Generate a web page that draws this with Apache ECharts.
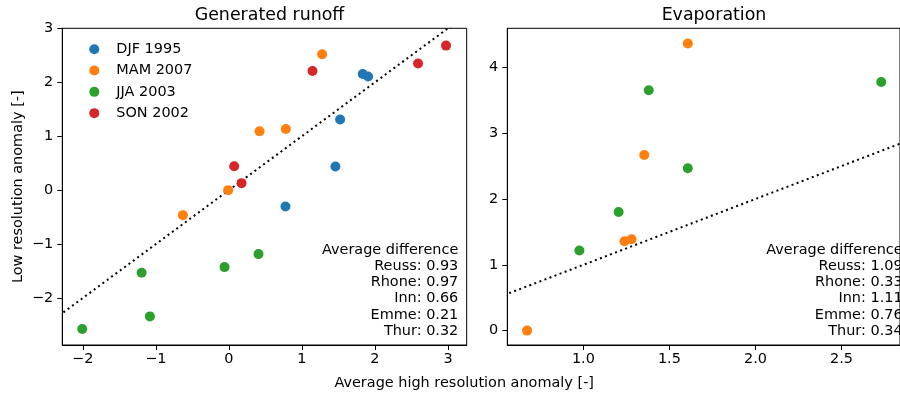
<!DOCTYPE html>
<html>
<head>
<meta charset="utf-8">
<script src="https://cdn.jsdelivr.net/npm/echarts@6/dist/echarts.min.js"></script>
<style>html,body{margin:0;padding:0;background:#fff}#c{width:900px;height:395px}</style>
</head>
<body>
<div id="c"></div>
<script>
// ---- data ----
const seriesNames = ['DJF 1995', 'MAM 2007', 'JJA 2003', 'SON 2002'];
const colors = ['#1f77b4', '#ff7f0e', '#2ca02c', '#d62728'];
const panelTitles = ['Generated runoff', 'Evaporation'];

// Generated runoff [high res, low res]
const runoffDJF = [[1.833, 2.154], [1.906, 2.105], [1.523, 1.309], [1.459, 0.438], [0.775, -0.302]];
const runoffMAM = [[1.277, 2.519], [0.420, 1.093], [0.780, 1.135], [-0.010, 0.000], [-0.629, -0.463]];
const runoffJJA = [[0.406, -1.185], [-0.059, -1.426], [-1.194, -1.531], [-1.081, -2.340], [-2.007, -2.574]];
const runoffSON = [[2.973, 2.679], [2.590, 2.346], [1.145, 2.210], [0.073, 0.444], [0.174, 0.130]];

// Evaporation
const evapMAM = [[1.607, 4.362], [1.354, 2.669], [1.239, 1.357], [1.280, 1.388], [0.673, 0.000]];
const evapJJA = [[2.731, 3.778], [1.380, 3.652], [1.607, 2.467], [1.205, 1.803], [0.977, 1.216]];

// 1:1 reference line
const oneToOne = [[-5, -5], [6, 6]];

// annotation
const rivers = ['Reuss', 'Rhone', 'Inn', 'Emme', 'Thur'];
const runoffDiff = ['0.93', '0.97', '0.66', '0.21', '0.32'];
const evapDiff = ['1.09', '0.33', '1.11', '0.76', '0.34'];

// ticks
const leftXTicks = [-2, -1, 0, 1, 2, 3];
const leftYTicks = [-2, -1, 0, 1, 2, 3];
const rightXTicks = [1.0, 1.5, 2.0, 2.5];
const rightYTicks = [0, 1, 2, 3, 4];

// axis ranges
const leftXRange = [-2.28, 3.256];
const leftYRange = [-2.87, 3.0];
const rightXRange = [0.558, 2.84];
const rightYRange = [-0.2185, 4.593];

// ---- chart ----
const FONT = 'DejaVu Sans';
const FS = 14.45;
const TFS = 17.4;
const fmtInt = v => String(Math.round(v)).replace('-', '\u2212');
const fmt1 = v => v.toFixed(1);

function axis(type, gridIndex, range, ticks, fmt) {
  return {
    type: 'value', gridIndex, min: range[0], max: range[1],
    axisLine: { show: true, onZero: false, lineStyle: { color: '#000', width: 1 } },
    axisTick: { show: true, inside: false, length: 5, customValues: ticks, lineStyle: { color: '#000', width: 1 } },
    axisLabel: { show: true, customValues: ticks, formatter: fmt, margin: type === 'x' ? 7.5 : 9,
      color: '#000', fontFamily: FONT, fontSize: FS },
    splitLine: { show: false }
  };
}

function annot(x, vals) {
  const lines = ['Average difference'].concat(rivers.map((r, i) => r + ': ' + vals[i]));
  return {
    type: 'text', x: x, y: 242.3, z: 100,
    style: { text: lines.join('\n'), align: 'right', verticalAlign: 'top',
      font: FS + 'px "DejaVu Sans"', lineHeight: 16.1, fill: '#000' }
  };
}

function scatter(name, idx, colorIdx, data) {
  return { type: 'scatter', name: name, xAxisIndex: idx, yAxisIndex: idx, data: data,
    symbolSize: 10, z: 3, silent: true, itemStyle: { color: colors[colorIdx], opacity: 1 } };
}
function refLine(idx) {
  return { type: 'line', xAxisIndex: idx, yAxisIndex: idx, data: oneToOne, symbol: 'none', silent: true, z: 2, clip: true,
    lineStyle: { color: '#000', width: 2, type: [2, 3.4], cap: 'butt' } };
}

const chart = echarts.init(document.getElementById('c'), null, { renderer: 'canvas' });
chart.setOption({
  animation: false,
  textStyle: { fontFamily: FONT },
  color: colors,
  title: [
    { text: panelTitles[0], left: 264.5, top: 2, textAlign: 'center',
      textStyle: { fontFamily: FONT, fontSize: TFS, fontWeight: 'normal', color: '#000' } },
    { text: panelTitles[1], left: 709, top: 2, textAlign: 'center',
      textStyle: { fontFamily: FONT, fontSize: TFS, fontWeight: 'normal', color: '#000' } }
  ],
  legend: {
    data: seriesNames, orient: 'vertical', left: 84.3, top: 37, icon: 'circle',
    itemWidth: 10, itemHeight: 10, itemGap: 6.8, selectedMode: false,
    textStyle: { fontFamily: FONT, fontSize: FS, color: '#000', lineHeight: 14.5, padding: [0, 0, 0, 12] }
  },
  grid: [
    { left: 62.3, top: 28.3, width: 404.4, height: 316.7, show: true, borderColor: '#000', borderWidth: 1, containLabel: false },
    { left: 507.3, top: 28.3, width: 404.4, height: 316.7, show: true, borderColor: '#000', borderWidth: 1, containLabel: false }
  ],
  xAxis: [
    axis('x', 0, leftXRange, leftXTicks, fmtInt),
    axis('x', 1, rightXRange, rightXTicks, fmt1)
  ],
  yAxis: [
    axis('y', 0, leftYRange, leftYTicks, fmtInt),
    axis('y', 1, rightYRange, rightYTicks, fmtInt)
  ],
  series: [
    refLine(0),
    scatter(seriesNames[0], 0, 0, runoffDJF),
    scatter(seriesNames[1], 0, 1, runoffMAM),
    scatter(seriesNames[2], 0, 2, runoffJJA),
    scatter(seriesNames[3], 0, 3, runoffSON),
    refLine(1),
    scatter(seriesNames[1], 1, 1, evapMAM),
    scatter(seriesNames[2], 1, 2, evapJJA)
  ],
  graphic: [
    annot(458.3, runoffDiff),
    annot(902.6, evapDiff),
    { type: 'text', x: 464.2, y: 383, style: { text: 'Average high resolution anomaly [-]', align: 'center', verticalAlign: 'middle',
      font: FS + 'px "DejaVu Sans"', fill: '#000' } },
    { type: 'text', x: 18, y: 186.7, rotation: Math.PI / 2, style: { text: 'Low resolution anomaly [-]', align: 'center', verticalAlign: 'middle',
      font: FS + 'px "DejaVu Sans"', fill: '#000' } }
  ]
});
</script>
</body>
</html>
